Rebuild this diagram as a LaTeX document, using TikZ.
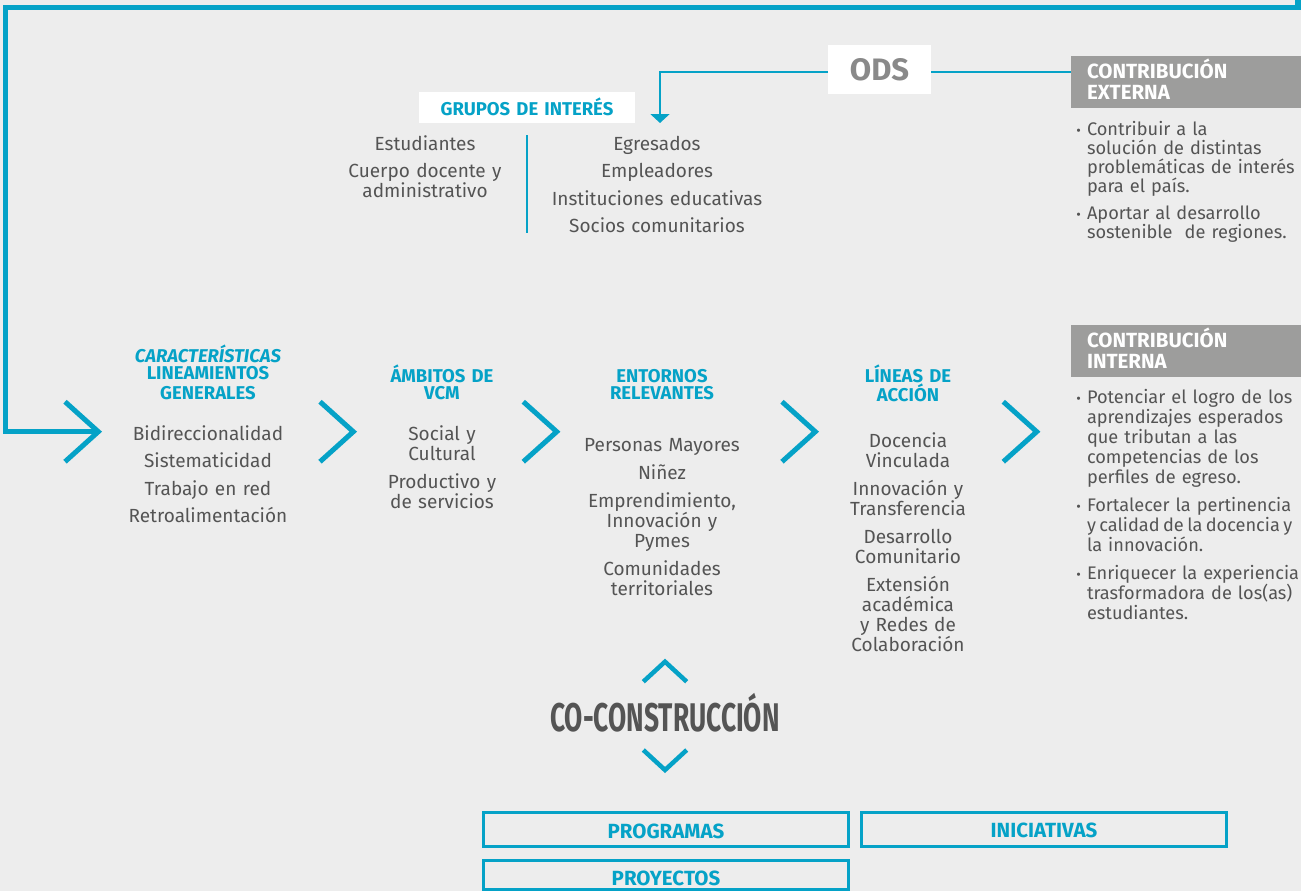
\documentclass[tikz,border=0pt]{standalone}
\usepackage{fontspec}
\setmainfont{Fira Sans}
\newfontfamily\condfont[FakeStretch=0.66]{Fira Sans}
\usetikzlibrary{arrows.meta}
\definecolor{bg}{HTML}{EDEDED}
\definecolor{vblue}{HTML}{05A2C7}
\definecolor{txtgray}{HTML}{545454}
\definecolor{odsgray}{HTML}{898989}
\definecolor{boxgray}{HTML}{9D9D9C}
\begin{document}
\begin{tikzpicture}[x=1pt,y=-1pt,
  every node/.style={inner sep=0pt,outer sep=0pt},
  itm/.style={text=txtgray,font=\fontsize{19}{20}\selectfont,align=center,text width=240pt,anchor=base},
  hdr/.style={text=vblue,font=\fontsize{18.5}{17.5}\selectfont\bfseries,align=center,text width=240pt,anchor=base},
  lst/.style={text=txtgray,font=\fontsize{18.2}{20}\selectfont,align=left,text width=230pt,anchor=base west},
  ctitle/.style={text=white,font=\fontsize{20.5}{21}\selectfont\bfseries,align=left,text width=200pt,anchor=base west},
  gbox/.style={fill=boxgray,minimum width=230pt,minimum height=52pt,anchor=north west},
  chev/.style={draw=vblue,line width=5pt,line cap=butt,line join=miter},
  frame/.style={draw=vblue,line width=5.5pt,line join=miter},
  thinl/.style={draw=vblue,line width=2.2pt},
  obox/.style={draw=vblue,line width=3pt,minimum width=365pt},
  obtxt/.style={text=vblue,font=\fontsize{20.5}{20}\selectfont\bfseries,anchor=base}
]
\newcommand\bul{\leavevmode\llap{{\fontsize{14}{14}\selectfont\textbullet}\hspace{6pt}}}
\newcommand\tightline[1]{{\spaceskip=0.7\fontdimen2\font\relax #1}}
\useasboundingbox (0,0) rectangle (1301,891);
\fill[bg] (0,0) rectangle (1301,891);

% main frame connector
\coordinate (topR) at (1298,0);
\coordinate (cornerL) at (5.5,7.5);
\coordinate (chev0) at (97,431.5);
\draw[frame] (topR) |- (cornerL) |- (chev0);

% chevrons
\draw[chev] (65,401.7) -- (98.3,431.7) -- (65,461.7);
\draw[chev] (320,401.7) -- (353.3,431.7) -- (320,461.7);
\draw[chev] (523.3,401.7) -- (556.7,431.7) -- (523.3,461.7);
\draw[chev] (782,401.7) -- (815.3,431.7) -- (782,461.7);
\draw[chev] (1003.3,401.7) -- (1036.7,431.7) -- (1003.3,461.7);

% ODS
\node[fill=white,minimum width=103pt,minimum height=49pt] (ods) at (879.5,69.5) {};
\node[anchor=base,text=odsgray,font=\fontsize{31}{31}\selectfont\bfseries] (odst) at (879.5,81) {ODS};

% contribucion externa
\node[gbox] (ext) at (1071,56) {};
\node[ctitle] (extt) at (1087,78) {CONTRIBUCIÓN\\EXTERNA};
\coordinate (lineY) at (0,72);
\draw[thinl] (ods.east |- lineY) -- (ext.west |- lineY);
\coordinate (gtip) at (660,123);
\draw[thinl,-{Triangle[width=19pt,length=9pt]}] (ods.west |- lineY) -| (gtip);

\node[lst,font=\fontsize{18.2}{19}\selectfont] (extl) at (1087,135) {\bul Contribuir a la\\solución de distintas\\problemáticas de interés\\para el país.\\[8pt]\bul Aportar al desarrollo\\sostenible\ \ de regiones.};

% grupos de interes
\node[fill=white,minimum width=216pt,minimum height=31pt] (gi) at (527,107.5) {};
\node[hdr] (git) at (527,115) {GRUPOS DE INTERÉS};
\draw[thinl] (527,135) -- (527,233);
\node[itm] (gl) at (425,150) {Estudiantes\\[7pt]Cuerpo docente y\\administrativo};
\node[itm] (gr) at (657,150) {Egresados\\[7pt]Empleadores\\[8pt]Instituciones educativas\\[7pt]Socios comunitarios};

% contribucion interna
\node[gbox] (int) at (1071,325) {};
\node[ctitle] (intt) at (1087,347) {CONTRIBUCIÓN\\INTERNA};
\node[lst] (intl) at (1087,403) {\bul Potenciar el logro de los\\aprendizajes esperados\\que tributan a las\\competencias de los\\perfiles de egreso.\\[8pt]\bul Fortalecer la pertinencia\\\tightline{y calidad de la docencia y}\\la innovación.\\[8pt]\bul Enriquecer la experiencia\\trasformadora de los(as)\\estudiantes.};

% columns
\node[hdr,font=\fontsize{18.5}{20}\selectfont\bfseries] (h1) at (208,362) {\textit{CARACTERÍSTICAS}\\[-3pt]LINEAMIENTOS\\GENERALES};
\node[itm] (c1) at (208,440) {Bidireccionalidad\\[7.5pt]Sistematicidad\\[7.5pt]Trabajo en red\\[7.5pt]Retroalimentación};

\node[hdr] (h2) at (442,382) {ÁMBITOS DE\\VCM};
\node[itm] (c2) at (442,440) {Social y\\Cultural\\[8pt]Productivo y\\de servicios};

\node[hdr] (h3) at (662,382) {ENTORNOS\\RELEVANTES};
\node[itm] (c3) at (662,451) {Personas Mayores\\[8pt]Niñez\\[8pt]Emprendimiento,\\Innovación y\\Pymes\\[8pt]Comunidades\\territoriales};

\node[hdr] (h4) at (908,382) {LÍNEAS DE\\ACCIÓN};
\node[itm] (c4) at (908,447) {Docencia\\Vinculada\\[8pt]Innovación y\\Transferencia\\[8pt]Desarrollo\\Comunitario\\[8pt]Extensión\\académica\\y Redes de\\Colaboración};

% co-construccion
\draw[chev,line width=4.5pt] (643.3,681.7) -- (665,661.7) -- (686.7,681.7);
\node[anchor=base,text=txtgray,font=\condfont\fontsize{40}{40}\selectfont\bfseries] (co) at (665,731.7) {CO-CONSTRUCCIÓN};
\draw[chev,line width=4.5pt] (643.3,750) -- (665,770) -- (686.7,750);

% bottom boxes
\node[obox,minimum height=34pt] (prog) at (666,829.5) {};
\node[obtxt] (progt) at (666,838) {PROGRAMAS};
\node[obox,minimum height=34pt] (inic) at (1044,829.5) {};
\node[obtxt] (inict) at (1044,837.5) {INICIATIVAS};
\node[obox,minimum height=29pt] (proy) at (666,875) {};
\node[obtxt] (proyt) at (666,885) {PROYECTOS};
\end{tikzpicture}
\end{document}
